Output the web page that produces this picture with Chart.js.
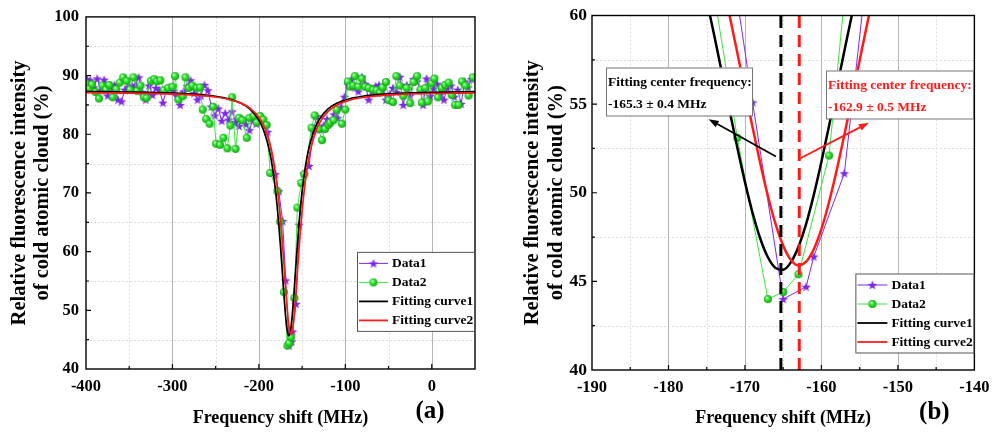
<!DOCTYPE html>
<html>
<head>
<meta charset="utf-8">
<title>Fluorescence spectra</title>
<script src="https://cdn.jsdelivr.net/npm/chart.js@4.4.0/dist/chart.umd.min.js"></script>
<style>
  html, body { margin: 0; padding: 0; background: #fff; }
  #wrap { position: relative; width: 997px; height: 432px; }
  .panel { position: absolute; top: 0; height: 432px; }
  #panelA { left: 0; width: 500px; }
  #panelB { left: 500px; width: 497px; }
</style>
</head>
<body>
<div id="wrap">
  <div class="panel" id="panelA"><canvas id="chartA"></canvas></div>
  <div class="panel" id="panelB"><canvas id="chartB"></canvas></div>
</div>
<script>
// Data1 (stars): frequency shift in MHz, relative fluorescence in %
const freq1 = [-399, -395, -391, -387, -383, -379, -375, -371, -367, -363, -359, -355, -351, -347, -343, -339,
  -335, -331, -327, -323, -319, -315, -311, -307, -303, -299, -295, -291, -287, -283, -279, -275, -271, -267,
  -263, -259, -255, -251, -247, -243, -239, -235, -231, -227, -223, -219, -215, -211, -207, -203, -199, -195,
  -190, -181, -177, -172.5, -169, -165, -162, -161, -157, -153.5, -148, -142, -137, -133, -129, -125, -121,
  -117, -113, -109, -105, -101, -97, -93, -89, -85, -81, -77, -73, -69, -65, -61, -57, -53, -49, -45, -41,
  -37, -33, -29, -25, -21, -17, -13, -10, -6, -2, 2, 6, 10, 14, 18, 22, 26, 30, 34, 38, 42, 46, 50];
const sig1 = [89.4, 89.2, 88.0, 89.5, 87.5, 89.3, 86.6, 87.6, 88.4, 85.9, 85.6, 87.6, 88.1, 88.3, 88.4, 89.7,
  87.2, 85.9, 88.3, 86.7, 87.9, 87.5, 85.4, 87.5, 88.0, 87.4, 86.5, 85.0, 87.3, 88.2, 89.2, 87.0, 85.9, 86.6,
  88.4, 87.5, 84.7, 83.2, 84.4, 82.3, 83.6, 82.5, 83.9, 82.1, 81.4, 82.6, 81.7, 80.7, 82.5, 81.8, 82.9, 82.5,
  80.4, 73.2, 70.3, 65.2, 55.1, 44.0, 44.7, 46.4, 51.1, 64.6, 73.3, 74.6, 80.6, 83.1, 80.8, 81.5, 82.6,
  82.2, 83.4, 82.8, 84.6, 86.4, 88.5, 89.3, 88.0, 87.3, 89.8, 88.6, 85.9, 87.3, 88.2, 88.4, 87.6, 85.9, 86.8,
  87.9, 87.2, 89.8, 85.0, 88.4, 86.6, 89.4, 89.0, 87.5, 85.0, 89.5, 86.5, 87.8, 88.6, 86.8, 85.9, 87.9,
  88.3, 86.4, 87.6, 85.2, 89.0, 88.0, 89.4, 89.8];

// Data2 (spheres)
const freq2 = [-400, -396, -393, -389, -385, -381, -377, -373, -369, -365, -361, -357, -353, -349, -345, -341,
  -337, -333, -330, -325, -321, -318, -314, -310, -305, -300, -297, -293, -288, -285, -281, -277, -272, -268,
  -265, -261, -257, -253, -249.5, -245, -241, -236.5, -233, -231, -227, -223, -219, -214, -211, -206, -202.5,
  -198.5, -195, -191, -187, -178.5, -175.5, -171, -167, -165, -163, -159, -155.5, -151, -147.5, -139, -135.5,
  -131, -127, -123.5, -119.5, -117.5, -113.5, -110, -104, -100, -97, -94, -91, -89, -85, -81, -77, -73, -68,
  -64, -60, -57, -53, -50, -45, -41, -37, -33, -29, -25, -21, -17, -13, -11.5, -7.5, -4.5, 0, 3, 7, 11.5,
  15.5, 19.5, 23, 27, 31, 35, 39, 42.5, 47.5];
const sig2 = [88.7, 87.8, 88.5, 87.2, 86.1, 88.3, 87.6, 88.4, 86.3, 87.7, 88.8, 89.7, 89.1, 87.6, 89.7, 87.4,
  88.3, 86.3, 86.2, 89.1, 89.4, 89.0, 89.2, 87.5, 87.9, 88.1, 89.9, 85.9, 86.5, 89.7, 87.9, 88.3, 87.9, 88.0,
  84.2, 82.6, 81.8, 84.7, 78.4, 78.2, 79.4, 77.6, 81.5, 86.3, 77.5, 82.8, 82.4, 79.4, 82.8, 83.1, 82.0,
  83.1, 82.5, 81.6, 73.4, 70.3, 65.1, 53.1, 44.0, 44.4, 45.4, 52.1, 67.5, 71.7, 73.2, 81.1, 83.2,
  80.9, 79.0, 80.9, 81.6, 82.0, 82.4, 84.2, 81.8, 84.2, 89.0, 88.1, 88.3, 89.9, 88.1, 89.5, 88.1, 87.9, 87.6,
  87.5, 87.1, 88.0, 88.9, 85.8, 85.5, 89.9, 88.3, 86.5, 87.9, 85.3, 88.9, 89.9, 87.6, 85.4, 87.9, 85.6, 88.7,
  89.5, 86.3, 87.9, 88.4, 88.8, 86.7, 85.0, 85.0, 89.0, 88.3, 86.6, 89.7];

// fitted curves, sampled along the frequency axis
const fitFreq = [-400, -350, -300, -270, -250, -235, -220, -210, -200, -195, -190, -186, -182, -179, -177,
  -175, -174, -173, -172, -171, -170, -169, -168, -167, -166, -165, -164, -163, -162, -161, -160, -159, -158,
  -157, -156, -155, -154, -153, -152, -150, -147, -144, -140, -135, -130, -120, -110, -95, -80, -60, -30, 0, 50];
const fit1 = [87.28, 87.20, 87.03, 86.79, 86.47, 86.04, 85.23, 84.24, 82.40, 80.86, 78.56, 75.85, 71.95, 67.94,
  64.65, 60.87, 58.84, 56.74, 54.62, 52.55, 50.60, 48.86, 47.42, 46.36, 45.76, 45.66, 46.07, 46.95, 48.24, 49.88,
  51.75, 53.78, 55.89, 58.00, 60.07, 62.05, 63.93, 65.69, 67.32, 70.21, 73.68, 76.32, 78.89, 81.08, 82.55, 84.31,
  85.28, 86.06, 86.48, 86.79, 87.03, 87.15, 87.25];
const fit2 = [87.08, 87.01, 86.85, 86.63, 86.35, 85.96, 85.26, 84.42, 82.89, 81.64, 79.80, 77.66, 74.59, 71.42,
  68.76, 65.62, 63.85, 61.96, 59.97, 57.90, 55.78, 53.68, 51.67, 49.82, 48.24, 47.01, 46.21, 45.90, 46.11, 46.81,
  47.96, 49.48, 51.28, 53.27, 55.36, 57.47, 59.56, 61.57, 63.48, 66.94, 71.18, 74.41, 77.53, 80.15, 81.87, 83.89,
  84.96, 85.81, 86.26, 86.58, 86.83, 86.95, 87.05];

// fitted centre frequencies and their errors (MHz)
const centers = [-165.3, -162.9];
const centerErr = [0.4, 0.5];
const seriesNames = ['Data1', 'Data2', 'Fitting curve1', 'Fitting curve2'];

const PURPLE = '#7d2ae8';
const GREEN = '#3fe43f';
const RED = '#ff1a1a';
const SERIF = '"Liberation Serif", "Times New Roman", serif';

Chart.defaults.font.family = SERIF;
Chart.defaults.font.weight = 'bold';
Chart.defaults.color = '#000';

// marker images
function makeStar(r, color) {
  const c = document.createElement('canvas');
  c.width = c.height = Math.ceil(r * 2 + 2);
  const g = c.getContext('2d');
  const cx = c.width / 2, cy = c.height / 2 + 0.5;
  g.beginPath();
  for (let i = 0; i < 10; i++) {
    const rr = i % 2 ? r * 0.42 : r;
    const a = -Math.PI / 2 + i * Math.PI / 5;
    g.lineTo(cx + rr * Math.cos(a), cy + rr * Math.sin(a));
  }
  g.closePath();
  g.fillStyle = color;
  g.fill();
  return c;
}
function makeBall(r) {
  const c = document.createElement('canvas');
  c.width = c.height = Math.ceil(r * 2 + 2);
  const g = c.getContext('2d');
  const cx = c.width / 2, cy = c.height / 2;
  const grad = g.createRadialGradient(cx - r * 0.35, cy - r * 0.4, r * 0.1, cx, cy, r);
  grad.addColorStop(0, '#d9ffd9');
  grad.addColorStop(0.35, '#3cf03c');
  grad.addColorStop(1, '#0fa20f');
  g.beginPath();
  g.arc(cx, cy, r, 0, Math.PI * 2);
  g.fillStyle = grad;
  g.fill();
  return c;
}
const starImg = makeStar(5, PURPLE);
const ballImg = makeBall(4);

const pts = (xs, ys) => xs.map((x, i) => ({x, y: ys[i]}));

function seriesSets(fitWidth) {
  return [
    {label: seriesNames[0], data: pts(freq1, sig1), borderColor: PURPLE, borderWidth: 1,
      pointStyle: starImg, pointRadius: 4, showLine: true, order: 4, marker: starImg},
    {label: seriesNames[1], data: pts(freq2, sig2), borderColor: GREEN, borderWidth: 1,
      pointStyle: ballImg, pointRadius: 4, showLine: true, order: 3, marker: ballImg},
    {label: seriesNames[2], data: pts(fitFreq, fit1), borderColor: '#000', borderWidth: fitWidth,
      pointRadius: 0, showLine: true, cubicInterpolationMode: 'monotone', order: 2},
    {label: seriesNames[3], data: pts(fitFreq, fit2), borderColor: RED, borderWidth: fitWidth,
      pointRadius: 0, showLine: true, cubicInterpolationMode: 'monotone', order: 1}
  ];
}

// grid lines, frame, inward tick marks, legend box and panel letter
const decor = {
  id: 'decor',
  beforeDatasetsDraw(chart, args, o) {
    const {ctx, chartArea: a, scales: {x, y}} = chart;
    ctx.save();
    ctx.lineWidth = 1;
    ctx.strokeStyle = '#dcdcdc';
    ctx.setLineDash([2, 2]);
    ctx.beginPath();
    for (let v = x.min + o.xStep / 2; v < x.max - 1e-6; v += o.xStep) {
      const p = Math.round(x.getPixelForValue(v)) + 0.5;
      ctx.moveTo(p, a.top); ctx.lineTo(p, a.bottom);
    }
    for (let v = y.min + o.yStep / 2; v < y.max - 1e-6; v += o.yStep) {
      const p = Math.round(y.getPixelForValue(v)) + 0.5;
      ctx.moveTo(a.left, p); ctx.lineTo(a.right, p);
    }
    ctx.stroke();
    ctx.setLineDash([]);
    ctx.strokeStyle = '#b4b4b4';
    ctx.beginPath();
    for (let v = x.min + o.xStep; v < x.max - 1e-6; v += o.xStep) {
      const p = Math.round(x.getPixelForValue(v)) + 0.5;
      ctx.moveTo(p, a.top); ctx.lineTo(p, a.bottom);
    }
    ctx.stroke();
    ctx.restore();
  },
  afterDraw(chart, args, o) {
    const {ctx, chartArea: a, scales: {x, y}} = chart;
    ctx.save();
    ctx.strokeStyle = '#000';
    ctx.lineWidth = 1.4;
    ctx.strokeRect(a.left, a.top, a.right - a.left, a.bottom - a.top);
    ctx.lineWidth = 1.2;
    ctx.beginPath();
    for (let v = x.min + o.xStep / 2, k = 1; v < x.max - 1e-6; v += o.xStep / 2, k++) {
      const p = x.getPixelForValue(v), len = k % 2 ? 3 : 5;
      ctx.moveTo(p, a.bottom); ctx.lineTo(p, a.bottom - len);
    }
    for (let v = y.min + o.yStep / 2, k = 1; v < y.max - 1e-6; v += o.yStep / 2, k++) {
      const p = y.getPixelForValue(v), len = k % 2 ? 3 : 5;
      ctx.moveTo(a.left, p); ctx.lineTo(a.left + len, p);
    }
    ctx.stroke();

    // legend
    const L = o.legend;
    const bx = a.right - L.dx, by = a.top + L.dy;
    ctx.fillStyle = '#fff';
    ctx.fillRect(bx, by, L.w, L.h);
    ctx.strokeStyle = '#555';
    ctx.lineWidth = 1;
    ctx.strokeRect(bx + 0.5, by + 0.5, L.w, L.h);
    ctx.font = 'bold 13.5px ' + SERIF;
    ctx.textBaseline = 'middle';
    ctx.textAlign = 'left';
    chart.data.datasets.slice(0, 4).forEach((ds, i) => {
      const ly = by + 11.5 + i * 19;
      ctx.strokeStyle = ds.borderColor;
      ctx.lineWidth = i < 2 ? 1 : 1.8;
      ctx.beginPath();
      ctx.moveTo(bx + 2, ly); ctx.lineTo(bx + L.line, ly);
      ctx.stroke();
      if (ds.marker) {
        const m = ds.marker;
        ctx.drawImage(m, bx + 2 + (L.line - 2) / 2 - m.width / 2, ly - m.height / 2);
      }
      ctx.fillStyle = '#000';
      ctx.fillText(ds.label, bx + L.line + 4, ly + 0.5);
    });

    ctx.font = 'bold 25px ' + SERIF;
    ctx.textAlign = 'center';
    ctx.fillStyle = '#000';
    ctx.fillText(o.letter, a.right - o.letterDx, a.bottom + 43);
    ctx.restore();
  }
};

// text boxes and arrows for the fitted centres
const centreNotes = {
  id: 'centreNotes',
  afterDraw(chart, args, o) {
    const {ctx, chartArea: a, scales: {x, y}} = chart;
    ctx.save();
    o.notes.forEach(n => {
      const x0 = x.getPixelForValue(n.from[0]), y0 = y.getPixelForValue(n.from[1]);
      const x1 = x.getPixelForValue(n.to[0]), y1 = y.getPixelForValue(n.to[1]);
      const ang = Math.atan2(y1 - y0, x1 - x0), head = 10, half = 3.6;
      const hx = x1 - head * Math.cos(ang), hy = y1 - head * Math.sin(ang);
      ctx.strokeStyle = n.color; ctx.fillStyle = n.color; ctx.lineWidth = 1.8;
      ctx.beginPath(); ctx.moveTo(x0, y0); ctx.lineTo(hx, hy); ctx.stroke();
      ctx.beginPath();
      ctx.moveTo(x1, y1);
      ctx.lineTo(hx + half * Math.sin(ang), hy - half * Math.cos(ang));
      ctx.lineTo(hx - half * Math.sin(ang), hy + half * Math.cos(ang));
      ctx.closePath(); ctx.fill();

      const bx = a.left + n.box[0], by = a.top + n.box[1];
      ctx.fillStyle = '#fff';
      ctx.fillRect(bx, by, n.box[2], n.box[3]);
      ctx.strokeStyle = '#777'; ctx.lineWidth = 1;
      ctx.strokeRect(bx + 0.5, by + 0.5, n.box[2], n.box[3]);
      ctx.fillStyle = n.color;
      ctx.font = 'bold 13.5px ' + SERIF;
      ctx.textAlign = 'left'; ctx.textBaseline = 'middle';
      ctx.fillText('Fitting center frequency:', bx + 2, by + 15);
      ctx.fillText(n.text, bx + 2, by + 37);
    });
    ctx.restore();
  }
};

function axes(xr, yr, o) {
  return {
    x: {
      type: 'linear', min: xr[0], max: xr[1],
      grid: {display: false, drawTicks: false}, border: {display: false},
      ticks: {stepSize: xr[2], includeBounds: false, padding: 7.5, font: {size: 16.5},
        callback: v => (v > xr[0] + o.xLast ? '' : String(v))},
      title: {display: true, text: 'Frequency shift (MHz)', font: {size: 18}, padding: {top: 0, bottom: 3}},
      afterFit: s => { s.height = o.xH; }
    },
    y: {
      type: 'linear', min: yr[0], max: yr[1],
      grid: {display: false, drawTicks: false}, border: {display: false},
      ticks: {stepSize: yr[2], padding: o.yPad, font: {size: o.yFont}},
      title: {display: true, text: ['Relative fluorescence intensity', 'of cold atomic cloud (%)'],
        font: {size: 20.5, lineHeight: o.yLH}, padding: {top: o.yTitlePad, bottom: 0}},
      afterFit: s => { s.width = o.yW; }
    }
  };
}

new Chart(document.getElementById('chartA'), {
  type: 'scatter',
  data: {datasets: seriesSets(1.7)},
  options: {
    responsive: true, maintainAspectRatio: false, animation: false, events: [],
    layout: {padding: {top: 13, right: 25, bottom: 0, left: 0}},
    scales: axes([-400, 50, 100], [40, 100, 10],
      {xLast: 400, xH: 63, yPad: 7, yFont: 16.5, yLH: 1.12, yTitlePad: 8.5, yW: 86}),
    plugins: {
      legend: {display: false}, tooltip: {enabled: false},
      decor: {xStep: 100, yStep: 10, letter: '(a)', letterDx: 45,
        legend: {dx: 118, dy: 235, w: 117, h: 79, line: 31}}
    }
  },
  plugins: [decor]
});

const centreLines = centers.map((c, i) => ({
  label: 'centre' + (i + 1),
  data: [{x: c, y: 40}, {x: c, y: 60}],
  borderColor: i ? RED : '#000', borderWidth: 3, borderDash: [12, 7],
  pointRadius: 0, showLine: true, order: 0
}));

new Chart(document.getElementById('chartB'), {
  type: 'scatter',
  data: {datasets: seriesSets(2.5).concat(centreLines)},
  options: {
    responsive: true, maintainAspectRatio: false, animation: false, events: [],
    layout: {padding: {top: 13, right: 16, bottom: 0, left: 0}},
    scales: axes([-190, -140, 10], [40, 60, 5],
      {xLast: 100, xH: 62, yPad: 5, yFont: 17.5, yLH: 1.17, yTitlePad: 21, yW: 92}),
    plugins: {
      legend: {display: false}, tooltip: {enabled: false},
      decor: {xStep: 10, yStep: 5, letter: '(b)', letterDx: 40,
        legend: {dx: 119, dy: 258, w: 118, h: 79, line: 32}},
      centreNotes: {notes: [
        {color: '#000', text: centers[0] + ' \u00b1 ' + centerErr[0] + ' MHz',
          box: [14, 52, 146, 48], from: [-165.95, 52.05], to: [-174.75, 54.15]},
        {color: RED, text: centers[1] + ' \u00b1 ' + centerErr[1] + ' MHz',
          box: [234, 55, 147, 48], from: [-162.75, 51.95], to: [-153.8, 53.95]}
      ]}
    }
  },
  plugins: [decor, centreNotes]
});
</script>
</body>
</html>
